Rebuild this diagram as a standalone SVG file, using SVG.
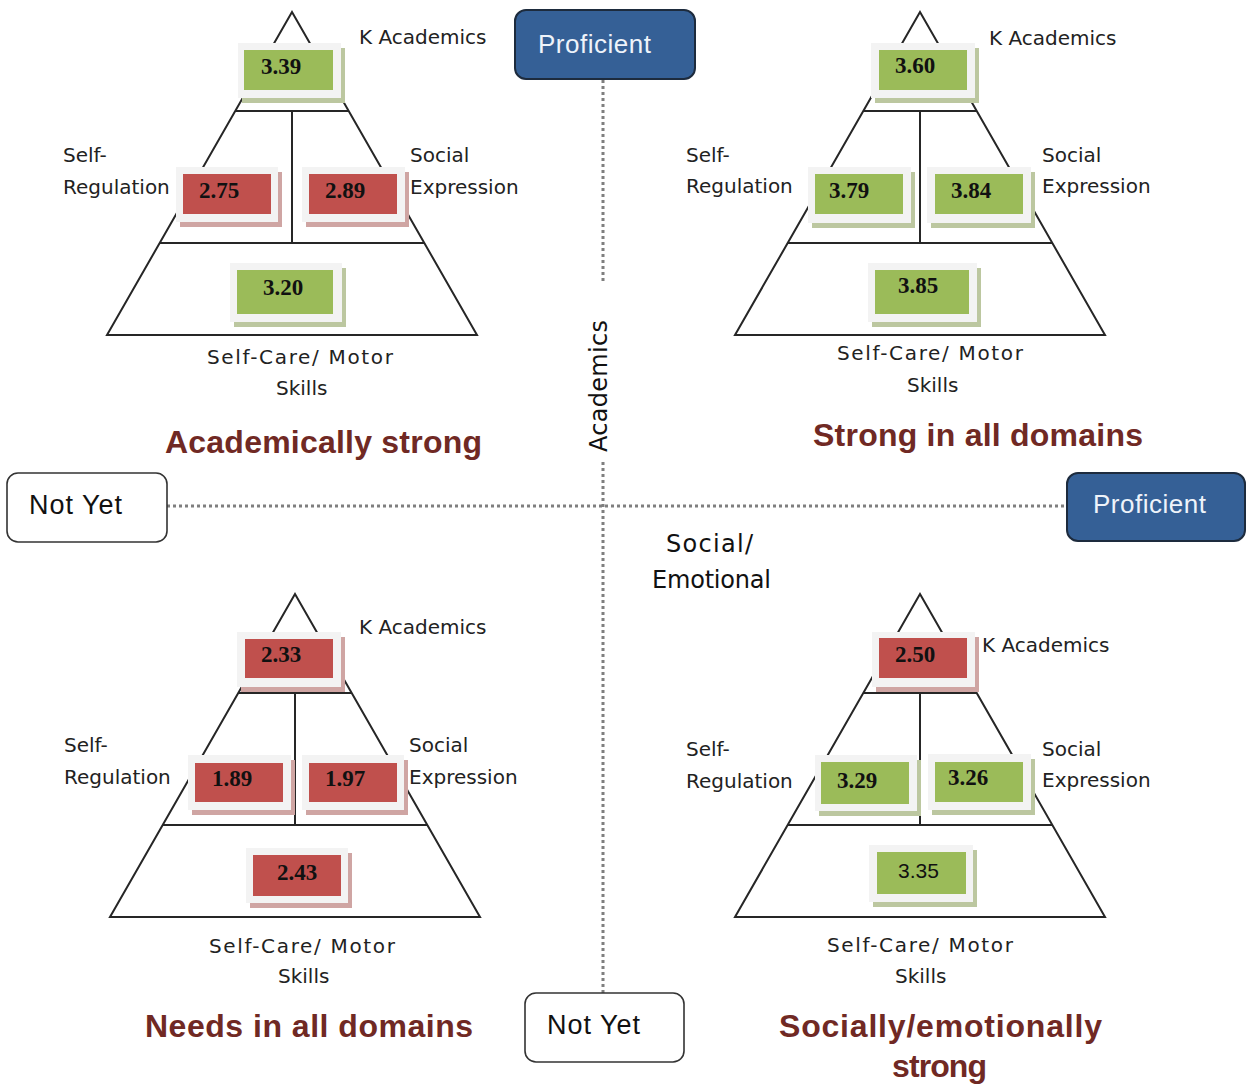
<svg xmlns="http://www.w3.org/2000/svg" width="1246" height="1089" viewBox="0 0 1246 1089">
<style>
.pl{fill:none;stroke:#262626;stroke-width:2}
.fr{fill:#f3f3f3}
.g{fill:#9bbb59}.r{fill:#c0504d}
.gs{fill:#bcc7a0}.rs{fill:#cfa5a3}
.val{font-family:"Liberation Serif",serif;font-weight:bold;font-size:23px;fill:#111}
.vals{font-family:"Liberation Sans",sans-serif;font-size:21px;fill:#111}
.lbl{font-family:"DejaVu Sans",sans-serif;font-size:20px;fill:#222}
.ttl{font-family:"Liberation Sans",sans-serif;font-weight:bold;font-size:32px;fill:#702924}
.ax{fill:none;stroke:#7f7f7f;stroke-width:3;stroke-dasharray:3 3}
.pro rect{fill:#356096;stroke:#1d2b3d;stroke-width:2}
.pro text{font-family:"Liberation Sans",sans-serif;font-size:26px;fill:#eef3fa}
.ny rect{fill:#fff;stroke:#333;stroke-width:1.6}
.ny text{font-family:"Liberation Sans",sans-serif;font-size:27px;fill:#111}
.axl{font-family:"DejaVu Sans",sans-serif;font-size:24px;fill:#111}
</style>
<defs>
<g id="pyr" class="pl">
<polygon points="0,0 -185,323 185,323"/>
<line x1="-57" y1="99" x2="57" y2="99"/>
<line x1="0" y1="99" x2="0" y2="231"/>
<line x1="-132" y1="231" x2="132" y2="231"/>
</g>
</defs>

<g id="connectors">
<line class="ax" x1="603" y1="80" x2="603" y2="282"/>
<line class="ax" x1="603" y1="462" x2="603" y2="993"/>
<line class="ax" x1="167" y1="506" x2="1067" y2="506"/>
</g>

<g id="axis-labels">
<text class="axl" transform="translate(607,452) rotate(-90)" textLength="132">Academics</text>
<text class="axl" x="666" y="552" textLength="87">Social/</text>
<text class="axl" x="652" y="588" textLength="119">Emotional</text>
</g>

<g id="proficient-top" class="pro">
<rect x="515" y="10" width="180" height="69" rx="11"/>
<text x="538" y="53" textLength="113">Proficient</text>
</g>
<g id="proficient-right" class="pro">
<rect x="1067" y="473" width="178" height="68" rx="11"/>
<text x="1093" y="513" textLength="113">Proficient</text>
</g>
<g id="notyet-left" class="ny">
<rect x="7" y="473" width="160" height="69" rx="11"/>
<text x="29" y="514" textLength="93">Not Yet</text>
</g>
<g id="notyet-bottom" class="ny">
<rect x="525" y="993" width="159" height="69" rx="11"/>
<text x="547" y="1034" textLength="93">Not Yet</text>
</g>

<!-- Top-left -->
<g id="pyramid-academically-strong">
<use href="#pyr" x="292" y="12"/>
<g id="tl-k"><rect class="gs" x="242" y="48" width="103" height="55"/><rect class="fr" x="238" y="43" width="103" height="55"/><rect class="g" x="244" y="50" width="89" height="40"/><text class="val" x="261" y="74">3.39</text></g>
<g id="tl-sr"><rect class="rs" x="180" y="172" width="102" height="55"/><rect class="fr" x="176" y="167" width="102" height="55"/><rect class="r" x="183" y="174" width="88" height="40"/><text class="val" x="199" y="198">2.75</text></g>
<g id="tl-se"><rect class="rs" x="306" y="172" width="103" height="55"/><rect class="fr" x="302" y="167" width="103" height="55"/><rect class="r" x="309" y="174" width="88" height="40"/><text class="val" x="325" y="198">2.89</text></g>
<g id="tl-sc"><rect class="gs" x="234" y="268" width="112" height="59"/><rect class="fr" x="230" y="263" width="112" height="59"/><rect class="g" x="237" y="270" width="96" height="44"/><text class="val" x="263" y="295">3.20</text></g>
<text class="lbl" x="359" y="44">K Academics</text>
<text class="lbl" x="63" y="162">Self-</text>
<text class="lbl" x="63" y="194">Regulation</text>
<text class="lbl" x="410" y="162">Social</text>
<text class="lbl" x="410" y="194">Expression</text>
<text class="lbl" x="207" y="364" textLength="186">Self-Care/ Motor</text>
<text class="lbl" x="276" y="395">Skills</text>
<text class="ttl" x="165" y="453" textLength="317">Academically strong</text>
</g>

<!-- Top-right -->
<g id="pyramid-strong-all">
<use href="#pyr" x="920" y="12"/>
<g id="tr-k"><rect class="gs" x="875" y="48" width="104" height="55"/><rect class="fr" x="871" y="43" width="104" height="55"/><rect class="g" x="879" y="50" width="88" height="40"/><text class="val" x="895" y="73">3.60</text></g>
<g id="tr-sr"><rect class="gs" x="812" y="172" width="103" height="56"/><rect class="fr" x="808" y="167" width="103" height="56"/><rect class="g" x="815" y="174" width="88" height="40"/><text class="val" x="829" y="198">3.79</text></g>
<g id="tr-se"><rect class="gs" x="931" y="172" width="104" height="56"/><rect class="fr" x="927" y="167" width="104" height="56"/><rect class="g" x="935" y="174" width="88" height="40"/><text class="val" x="951" y="198">3.84</text></g>
<g id="tr-sc"><rect class="gs" x="872" y="268" width="109" height="59"/><rect class="fr" x="868" y="263" width="109" height="59"/><rect class="g" x="875" y="270" width="94" height="44"/><text class="val" x="898" y="293">3.85</text></g>
<text class="lbl" x="989" y="45">K Academics</text>
<text class="lbl" x="686" y="162">Self-</text>
<text class="lbl" x="686" y="193">Regulation</text>
<text class="lbl" x="1042" y="162">Social</text>
<text class="lbl" x="1042" y="193">Expression</text>
<text class="lbl" x="837" y="360" textLength="186">Self-Care/ Motor</text>
<text class="lbl" x="907" y="392">Skills</text>
<text class="ttl" x="813" y="446" textLength="330">Strong in all domains</text>
</g>

<!-- Bottom-left -->
<g id="pyramid-needs-all">
<use href="#pyr" x="295" y="594"/>
<g id="bl-k"><rect class="rs" x="241" y="637" width="104" height="55"/><rect class="fr" x="237" y="632" width="104" height="55"/><rect class="r" x="245" y="639" width="88" height="39"/><text class="val" x="261" y="662">2.33</text></g>
<g id="bl-sr"><rect class="rs" x="192" y="760" width="103" height="55"/><rect class="fr" x="188" y="755" width="103" height="55"/><rect class="r" x="195" y="763" width="88" height="39"/><text class="val" x="212" y="786">1.89</text></g>
<g id="bl-se"><rect class="rs" x="306" y="760" width="102" height="55"/><rect class="fr" x="302" y="755" width="102" height="55"/><rect class="r" x="309" y="763" width="88" height="39"/><text class="val" x="325" y="786">1.97</text></g>
<g id="bl-sc"><rect class="rs" x="250" y="853" width="102" height="55"/><rect class="fr" x="246" y="848" width="102" height="55"/><rect class="r" x="253" y="855" width="88" height="41"/><text class="val" x="277" y="880">2.43</text></g>
<text class="lbl" x="359" y="634">K Academics</text>
<text class="lbl" x="64" y="752">Self-</text>
<text class="lbl" x="64" y="784">Regulation</text>
<text class="lbl" x="409" y="752">Social</text>
<text class="lbl" x="409" y="784">Expression</text>
<text class="lbl" x="209" y="953" textLength="186">Self-Care/ Motor</text>
<text class="lbl" x="278" y="983">Skills</text>
<text class="ttl" x="145" y="1037" textLength="328">Needs in all domains</text>
</g>

<!-- Bottom-right -->
<g id="pyramid-socially-strong">
<use href="#pyr" x="920" y="594"/>
<g id="br-k"><rect class="rs" x="876" y="637" width="103" height="55"/><rect class="fr" x="872" y="632" width="103" height="55"/><rect class="r" x="879" y="638" width="88" height="40"/><text class="val" x="895" y="662">2.50</text></g>
<g id="br-sr"><rect class="gs" x="819" y="760" width="102" height="56"/><rect class="fr" x="815" y="755" width="102" height="56"/><rect class="g" x="821" y="762" width="88" height="42"/><text class="val" x="837" y="788">3.29</text></g>
<g id="br-se"><rect class="gs" x="932" y="759" width="103" height="56"/><rect class="fr" x="928" y="754" width="103" height="56"/><rect class="g" x="935" y="762" width="88" height="40"/><text class="val" x="948" y="785">3.26</text></g>
<g id="br-sc"><rect class="gs" x="873" y="850" width="104" height="57"/><rect class="fr" x="869" y="845" width="104" height="57"/><rect class="g" x="877" y="852" width="89" height="42"/><text class="vals" x="898" y="878">3.35</text></g>
<text class="lbl" x="982" y="652">K Academics</text>
<text class="lbl" x="686" y="756">Self-</text>
<text class="lbl" x="686" y="788">Regulation</text>
<text class="lbl" x="1042" y="756">Social</text>
<text class="lbl" x="1042" y="787">Expression</text>
<text class="lbl" x="827" y="952" textLength="186">Self-Care/ Motor</text>
<text class="lbl" x="895" y="983">Skills</text>
<text class="ttl" x="779" y="1037" textLength="323">Socially/emotionally</text>
<text class="ttl" x="892" y="1077" textLength="95">strong</text>
</g>
</svg>
